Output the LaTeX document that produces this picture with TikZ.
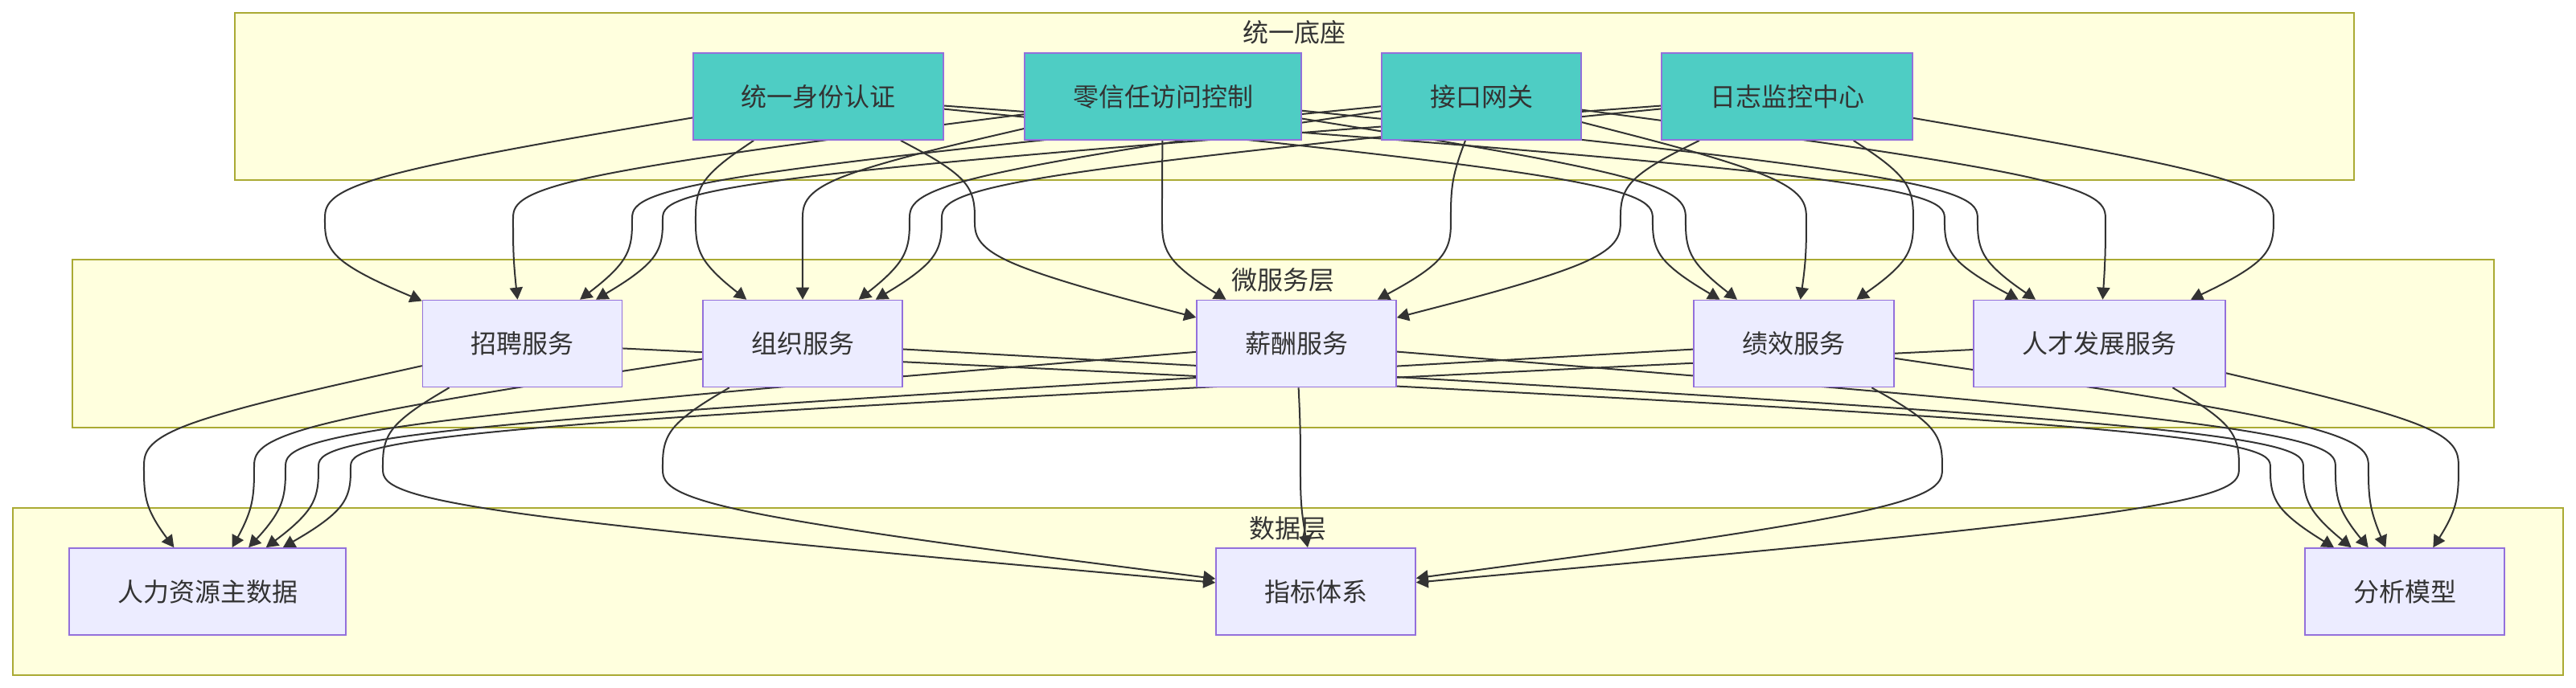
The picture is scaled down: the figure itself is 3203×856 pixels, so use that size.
\documentclass[tikz,border=0pt]{standalone}
\usepackage{fontspec}
\setmainfont{Noto Sans CJK SC}
\usepackage{tikz}
\usetikzlibrary{arrows.meta, calc, backgrounds}
\usepackage{xcolor}
\definecolor{zonefill}{HTML}{FFFFDE}
\definecolor{zoneline}{HTML}{AAAA33}
\definecolor{svcfill}{HTML}{ECECFF}
\definecolor{svcline}{HTML}{9370DB}
\definecolor{basefill}{HTML}{4ECDC4}
\definecolor{ink}{HTML}{333333}

\tikzset{
  zone/.style={draw=zoneline, fill=zonefill, line width=1pt},
  zonetitle/.style={text=ink, inner sep=0pt, font=\fontsize{16pt}{19pt}\selectfont},
  svcbox/.style={draw=svcline, fill=svcfill, line width=0.8pt, text=ink, minimum height=54pt, inner sep=0pt, font=\fontsize{16pt}{19pt}\selectfont},
  basebox/.style={svcbox, fill=basefill},
  flow/.style={draw=ink, line width=1pt, -{Triangle[length=7.5pt, width=8pt]}},
}

% curved connector: source, x of the lane, three lane heights, target
\newcommand{\flowedge}[6]{%
  \path (#1) -- (#2,#3) coordinate[pos=0] (p0);
  \path (#2,#5) -- (#6) coordinate[pos=1] (p4);
  \coordinate (p1) at (#2,#3);
  \coordinate (p2) at (#2,#4);
  \coordinate (p3) at (#2,#5);
  \draw[flow] (p0) -- ($ {5/6}*(p0) + {1/6}*(p1) $)
    .. controls ($ {2/3}*(p0) + {1/3}*(p1) $) and ($ {1/3}*(p0) + {2/3}*(p1) $)
    .. ($ {1/6}*(p0) + {4/6}*(p1) + {1/6}*(p2) $)
    .. controls ($ {2/3}*(p1) + {1/3}*(p2) $) and ($ {1/3}*(p1) + {2/3}*(p2) $)
    .. ($ {1/6}*(p1) + {4/6}*(p2) + {1/6}*(p3) $)
    .. controls ($ {2/3}*(p2) + {1/3}*(p3) $) and ($ {1/3}*(p2) + {2/3}*(p3) $)
    .. ($ {1/6}*(p2) + {4/6}*(p3) + {1/6}*(p4) $)
    .. controls ($ {2/3}*(p3) + {1/3}*(p4) $) and ($ {1/3}*(p3) + {2/3}*(p4) $)
    .. ($ {1/6}*(p3) + {5/6}*(p4) $) -- (p4);
}

\begin{document}
\begin{tikzpicture}[x=0.5pt, y=-0.5pt]
  \useasboundingbox (0,0) rectangle (3203,856);

  % base layer
  \node[basebox, minimum width=155.5pt] (auth) at (1017.5,120) {统一身份认证};
  \node[basebox, minimum width=172pt] (zt) at (1446,120) {零信任访问控制};
  \node[basebox, minimum width=124pt] (gw) at (1842,120) {接口网关};
  \node[basebox, minimum width=156pt] (log) at (2222,120) {日志监控中心};

  % services
  \node[svcbox, minimum width=124pt] (rec) at (649.5,427.5) {招聘服务};
  \node[svcbox, minimum width=124pt] (org) at (998,427.5) {组织服务};
  \node[svcbox, minimum width=124pt] (pay) at (1612,427.5) {薪酬服务};
  \node[svcbox, minimum width=124.5pt] (perf) at (2230.5,427.5) {绩效服务};
  \node[svcbox, minimum width=156.5pt] (tal) at (2610.5,427.5) {人才发展服务};

  % data
  \node[svcbox, minimum width=172pt] (md) at (258,736) {人力资源主数据};
  \node[svcbox, minimum width=124pt] (kpi) at (1636,736) {指标体系};
  \node[svcbox, minimum width=124pt] (model) at (2990,736) {分析模型};

  \begin{scope}[on background layer]
    \fill[white] (0,0) rectangle (3203,856);
    \draw[zone] (292,16) rectangle (2927,224);
    \draw[zone] (90,323) rectangle (3101,532);
    \draw[zone] (16,632) rectangle (3187,840);
    \node[zonetitle] (basetitle) at (1609.5,40) {统一底座};
    \node[zonetitle] (svctitle) at (1595.5,348) {微服务层};
    \node[zonetitle] (datatitle) at (1601,657) {数据层};

    \foreach \src/\lane/\dst in {auth/404/rec, zt/638/rec, gw/786/rec, log/824/rec,
        auth/865/org, zt/998/org, gw/1131/org, log/1171/org,
        auth/1212/pay, zt/1445/pay, gw/1804/pay, log/2015/pay,
        auth/2055/perf, zt/2096/perf, gw/2246/perf, log/2379/perf,
        auth/2418/tal, zt/2459/tal, gw/2618/tal, log/2827/tal}
      {\flowedge{\src}{\lane}{224}{273.5}{323}{\dst}}

    \foreach \src/\lane/\dst in {rec/179/md, org/316/md, pay/355/md, perf/396/md, tal/436/md,
        rec/476/kpi, org/824/kpi, pay/1617/kpi, perf/2415/kpi, tal/2784/kpi,
        rec/2823/model, org/2864/model, pay/2904/model, perf/2945/model, tal/3057/model}
      {\flowedge{\src}{\lane}{532}{582}{632}{\dst}}
  \end{scope}
\end{tikzpicture}
\end{document}
